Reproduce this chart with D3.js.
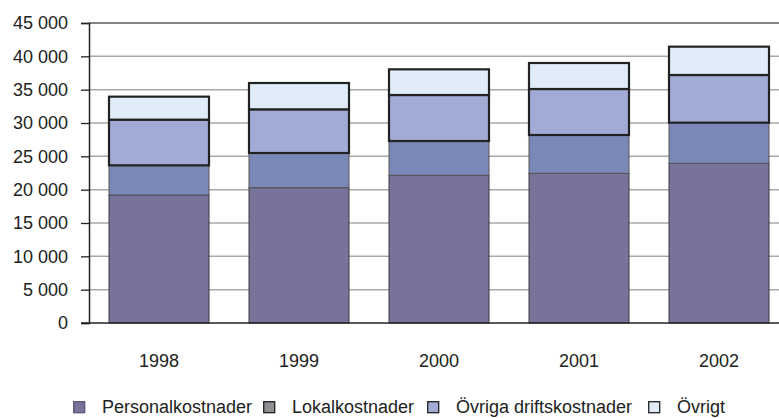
<!DOCTYPE html>
<html>
<head>
<meta charset="utf-8">
<script src="https://cdnjs.cloudflare.com/ajax/libs/d3/7.8.5/d3.min.js"></script>
<style>
  body { margin: 0; background: #fff; }
  svg { display: block; font-family: "Liberation Sans", Arial, sans-serif; }
  .tick-label { font-size: 18px; fill: #222; }
  .legend-text { font-size: 18px; fill: #222; }
</style>
</head>
<body>
<svg id="chart"></svg>
<script>
var years = ["1998", "1999", "2000", "2001", "2002"];
var seriesNames = ["Personalkostnader", "Lokalkostnader", "Övriga driftskostnader", "Övrigt"];
var personal = [19200, 20300, 22150, 22450, 23950];
var lokal = [4450, 5200, 5150, 5750, 6100];
var drift = [6850, 6550, 6900, 6900, 7150];
var ovrigt = [3450, 3950, 3850, 3900, 4250];
var yTicks = [0, 5000, 10000, 15000, 20000, 25000, 30000, 35000, 40000, 45000];

var W = 779, H = 418;
var plot = {left: 89, right: 789, top: 23, bottom: 323};

var fills = ["#77739a", "#7a88b7", "#a1abd5", "#e0edf8"];
var legendFills = ["#77739a", "#8e8e93", "#a1abd5", "#e0edf8"];
var strokes = ["#3a3a3a", "#555", "#222", "#222"];
var strokeW = [1, 1, 2.2, 2.2];

var rows = years.map(function(y, i){
    return {year: y, s0: personal[i], s1: lokal[i], s2: drift[i], s3: ovrigt[i]};
});
var stack = d3.stack().keys(["s0", "s1", "s2", "s3"]);
var layers = stack(rows);

var svg = d3.select("#chart").attr("width", W).attr("height", H);

var x = d3.scaleBand()
    .domain(years)
    .range([plot.left, plot.right])
    .paddingInner(2/7)
    .paddingOuter(1/7);

var y = d3.scaleLinear()
    .domain([0, 45000])
    .range([plot.bottom, plot.top]);

// gridlines
svg.append("g")
    .selectAll("line")
    .data(yTicks.filter(function(d){ return d > 0; }))
    .enter().append("line")
    .attr("x1", plot.left)
    .attr("x2", W)
    .attr("y1", function(d){ return y(d); })
    .attr("y2", function(d){ return y(d); })
    .attr("stroke", function(d){ return d == 45000 ? "#5a5a5a" : "#a8a8a8"; })
    .attr("stroke-width", 1.5);

// bars
layers.forEach(function(layer, k){
    svg.append("g")
        .selectAll("rect")
        .data(layer)
        .enter().append("rect")
        .attr("x", function(d){ return x(d.data.year); })
        .attr("width", x.bandwidth())
        .attr("y", function(d){ return y(d[1]); })
        .attr("height", function(d){ return y(d[0]) - y(d[1]); })
        .attr("fill", fills[k])
        .attr("stroke", strokes[k])
        .attr("stroke-width", strokeW[k]);
});

// y axis
var yAxis = svg.append("g")
    .attr("transform", "translate(" + plot.left + ",0)")
    .call(d3.axisLeft(y).tickValues(yTicks).tickSize(8).tickPadding(13)
        .tickFormat(function(d){ return d3.format(",")(d).replace(/,/g, " "); }));
yAxis.select(".domain").attr("stroke", "#222").attr("stroke-width", 1.5);
yAxis.selectAll(".tick line").attr("stroke", "#222").attr("stroke-width", 1.3);
yAxis.selectAll(".tick text").attr("class", "tick-label").attr("font-size", null).attr("font-family", null);

// x axis baseline
svg.append("line")
    .attr("x1", plot.left - 8).attr("x2", W)
    .attr("y1", y(0)).attr("y2", y(0))
    .attr("stroke", "#222").attr("stroke-width", 1.5);

// year labels
svg.append("g")
    .selectAll("text")
    .data(years)
    .enter().append("text")
    .attr("class", "tick-label")
    .attr("x", function(d){ return x(d) + x.bandwidth()/2; })
    .attr("y", 367)
    .attr("text-anchor", "middle")
    .text(function(d){ return d; });

// legend
var legendX = [73, 263, 427, 648];
var legend = svg.append("g").selectAll("g")
    .data(seriesNames)
    .enter().append("g")
    .attr("transform", function(d, i){ return "translate(" + legendX[i] + ",413)"; });
legend.append("rect")
    .attr("x", 0.7).attr("y", -11.3)
    .attr("width", 11).attr("height", 11)
    .attr("fill", function(d, i){ return legendFills[i]; })
    .attr("stroke", function(d, i){ return i == 0 ? "#5c5880" : "#222"; })
    .attr("stroke-width", 1.3);
legend.append("text")
    .attr("class", "legend-text")
    .attr("x", 29).attr("y", 0)
    .text(function(d){ return d; });
</script>
</body>
</html>
